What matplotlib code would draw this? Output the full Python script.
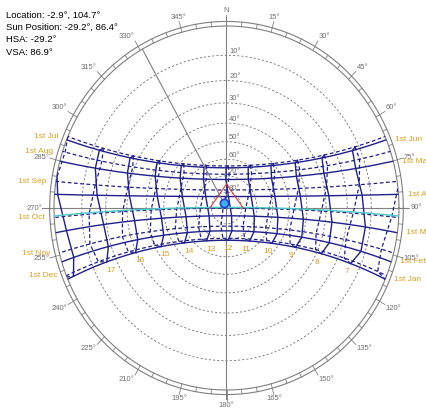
import numpy as np
import matplotlib
matplotlib.use("Agg")
import matplotlib.pyplot as plt
from matplotlib.patches import Circle

# site and time zone
latitude = -2.9
longitude = 104.7
tz_meridian = 105.0

# 1st of each month: declination (deg) and equation of time (min)
months = ["Jan", "Feb", "Mar", "Apr", "May", "Jun",
          "Jul", "Aug", "Sep", "Oct", "Nov", "Dec"]
month_decl = [-23.0, -17.2, -7.8, 4.3, 14.9, 22.0,
              23.1, 18.1, 8.4, -3.0, -14.3, -21.8]
month_eot = [-3.2, -13.6, -12.5, -4.0, 2.9, 2.2,
             -3.7, -6.3, -0.1, 10.2, 16.4, 11.0]

hours = [6, 7, 8, 9, 10, 11, 12, 13, 14, 15, 16, 17, 18]
hour_labels = [7, 8, 9, 10, 11, 12, 13, 14, 15, 16, 17]
alt_rings = [10, 20, 30, 40, 50, 60, 70, 80]
az_labels = list(range(0, 360, 15))

# current sun / selected day
sun_az = 330.8
sun_alt = 86.4
day_decl = -2.5
shade_az = [270, 0, 90]
shade_alt = [79, 75, 79]

info_lines = ["Location: -2.9\u00b0, 104.7\u00b0",
              "Sun Position: -29.2\u00b0, 86.4\u00b0",
              "HSA: -29.2\u00b0",
              "VSA: 86.9\u00b0"]

NAVY = "#20208c"
ORANGE = "#dca020"
GRAY = "#808080"
LGRAY = "#707070"
FONT = "Liberation Sans"

phi = np.radians(latitude)


def sun_pos(decl, ha):
    d = np.radians(decl)
    h = np.radians(ha)
    sin_alt = np.sin(phi) * np.sin(d) + np.cos(phi) * np.cos(d) * np.cos(h)
    alt = np.degrees(np.arcsin(sin_alt))
    az = np.degrees(np.arctan2(-np.cos(d) * np.sin(h),
                               np.sin(d) * np.cos(phi) - np.cos(d) * np.sin(phi) * np.cos(h)))
    return alt, az % 360


def proj(az, alt):
    # stereographic, horizon at r = 1
    r = np.tan(np.radians(90 - np.asarray(alt)) / 2)
    a = np.radians(az)
    return r * np.sin(a), r * np.cos(a)


def hour_angle(hour, eot):
    solar = hour + (eot + 4 * (longitude - tz_meridian)) / 60.0
    return 15 * (solar - 12)


fig = plt.figure(figsize=(4.26, 4.12), dpi=100)
ax = fig.add_axes([0, 0, 1, 1])
ax.set_xlim(-226.5 / 172.5, (426 - 226.5) / 172.5)
ax.set_ylim(-(412 - 208) / 182, 208 / 182)
ax.axis("off")

clip = Circle((0, 0), 1.0, transform=ax.transData)
t = np.linspace(0, 2 * np.pi, 400)

# outer double ring with 5 deg ticks
for rr in (1.0, 1.025):
    ax.plot(rr * np.cos(t), rr * np.sin(t), color=GRAY, lw=0.8)
for a in range(0, 360, 5):
    s, c = np.sin(np.radians(a)), np.cos(np.radians(a))
    ax.plot([s * 1.0, s * 1.025], [c * 1.0, c * 1.025], color=GRAY, lw=0.6)

# altitude rings
for alt in alt_rings:
    r = np.tan(np.radians(90 - alt) / 2)
    ax.plot(r * np.cos(t), r * np.sin(t), color=LGRAY, lw=0.6, ls=(0, (2.5, 2.5)))
    ax.text(0.015, r + 0.022, f"{alt}\u00b0", fontsize=5.5, color=LGRAY,
            family=FONT, ha="left", va="center")

# N-S and E-W axes
ax.plot([0, 0], [-1.05, 1.05], color=GRAY, lw=0.8)
ax.plot([-1.07, 1.05], [0, 0], color=GRAY, lw=0.8)

# azimuth labels
for a in az_labels:
    s, c = np.sin(np.radians(a)), np.cos(np.radians(a))
    ax.plot([s * 1.025, s * 1.06], [c * 1.025, c * 1.06], color=GRAY, lw=0.6)
    ha = "left" if s > 0.3 else ("right" if s < -0.3 else "center")
    va = "bottom" if c > 0.3 else ("top" if c < -0.3 else "center")
    label = "N" if a == 0 else f"{a}\u00b0"
    ax.text(s * 1.065, c * 1.065, label, fontsize=5.5, color=LGRAY,
            family=FONT, ha=ha, va=va)

# monthly sun paths
ha_grid = np.linspace(-120, 120, 600)
for i, (m, d) in enumerate(zip(months, month_decl)):
    alt, az = sun_pos(d, ha_grid)
    x, y = proj(az, alt)
    ls = "-" if i < 6 else (0, (3, 2))
    ln, = ax.plot(x, y, color=NAVY, lw=1.0 if i < 6 else 0.9, ls=ls)
    ln.set_clip_path(clip)
    # horizon end point for the label
    h0 = np.degrees(np.arccos(-np.tan(phi) * np.tan(np.radians(d))))
    if i < 6:
        _, az0 = sun_pos(d, -h0)
        ax.annotate(f"1st {m}", proj(az0, 0.0), xytext=(6.5, 0),
                    textcoords="offset points", fontsize=6, color=ORANGE,
                    family=FONT, ha="left", va="center")
    else:
        _, az0 = sun_pos(d, h0)
        ax.annotate(f"1st {m}", proj(az0, 0.0), xytext=(-6.5, 0),
                    textcoords="offset points", fontsize=6, color=ORANGE,
                    family=FONT, ha="right", va="center")

# hour lines (analemmas): Jan-Jul solid, Jul-Jan dashed
for h in hours:
    ha_m = np.array([hour_angle(h, e) for e in month_eot])
    alt, az = sun_pos(np.array(month_decl), ha_m)
    x, y = proj(az, alt)
    first = list(range(0, 7))
    second = list(range(6, 12)) + [0]
    ln1, = ax.plot(x[first], y[first], color=NAVY, lw=1.0)
    ln2, = ax.plot(x[second], y[second], color=NAVY, lw=0.9, ls=(0, (3, 2)))
    ln1.set_clip_path(clip)
    ln2.set_clip_path(clip)
    if h in hour_labels:
        sx = np.sign(x[0]) if abs(x[0]) > 0.05 else 0
        ax.annotate(str(h), (x[0], y[0]), xytext=(-3 * sx, -3.5),
                    textcoords="offset points", fontsize=6, color=ORANGE,
                    family=FONT, ha="center", va="top")

# selected day path
alt, az = sun_pos(day_decl, ha_grid)
x, y = proj(az, alt)
ln, = ax.plot(x, y, color="#4cc8c8", lw=1.0)
ln.set_clip_path(clip)

# shading lines
sx, sy = proj(np.array(shade_az), np.array(shade_alt))
ax.plot(sx, sy, color="#d04040", lw=0.8)

# sun line and marker
s, c = np.sin(np.radians(sun_az)), np.cos(np.radians(sun_az))
ax.plot([0, s], [0, c], color=GRAY, lw=0.8)
px, py = proj(sun_az, sun_alt)
ax.plot(px, py, "o", ms=6, mfc="#40b0f0", mec="#2040d0", mew=1.2)

# info text
for k, line in enumerate(info_lines):
    fig.text(6 / 426, 1 - (15 + 12.5 * k) / 412, line, fontsize=6.8,
             family=FONT, color="black", ha="left", va="center")

fig.savefig("out.png", dpi=100)
